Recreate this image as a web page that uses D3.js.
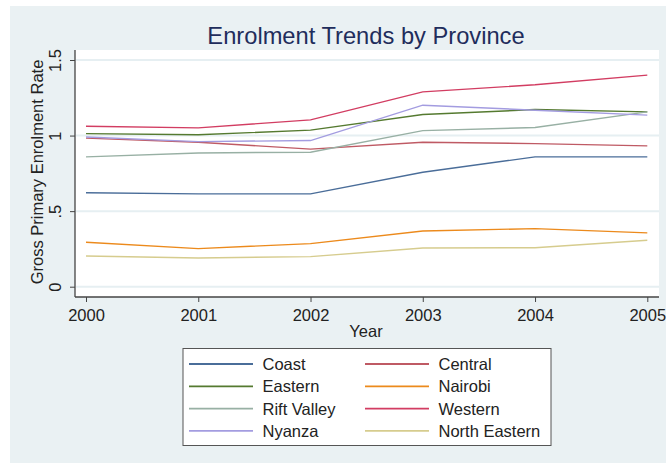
<!DOCTYPE html>
<html lang="en">
<head>
    <meta charset="UTF-8">
    <title>Enrolment Trends by Province</title>
    <style>
        body {
            margin: 0;
            padding: 0;
            background-color: #fff;
        }
        svg text {
            font-family: 'Liberation Sans', Arial, sans-serif;
        }
    </style>
    <script src="https://d3js.org/d3.v7.min.js"></script>
</head>
<body>
<div id="chart"></div>
<script>
    // data
    const years = [2000, 2001, 2002, 2003, 2004, 2005];
    const provinces = ["Coast", "Central", "Eastern", "Nairobi", "Rift Valley", "Western", "Nyanza", "North Eastern"];
    const coast = [0.622, 0.614, 0.614, 0.757, 0.859, 0.859];
    const central = [0.983, 0.956, 0.910, 0.956, 0.947, 0.932];
    const eastern = [1.013, 1.005, 1.036, 1.139, 1.172, 1.157];
    const nairobi = [0.294, 0.252, 0.285, 0.369, 0.384, 0.356];
    const riftValley = [0.859, 0.885, 0.890, 1.033, 1.053, 1.157];
    const western = [1.062, 1.051, 1.104, 1.289, 1.336, 1.400];
    const nyanza = [0.991, 0.960, 0.967, 1.201, 1.168, 1.135];
    const northEastern = [0.203, 0.190, 0.199, 0.256, 0.258, 0.307];
    const yTicks = [0, 0.5, 1, 1.5];
    const yTickLabels = ["0", ".5", "1", "1.5"];

    const seriesValues = [coast, central, eastern, nairobi, riftValley, western, nyanza, northEastern];
    const colors = ["#4a6d99", "#bf5a64", "#557a30", "#ec8a1c", "#98b0a4", "#d23d62", "#a39ce0", "#d6cc8e"];

    const width = 666, height = 463;
    const plot = {left: 75, top: 50, right: 659, bottom: 297};
    const labelSize = 16.5;

    const svg = d3.select("#chart").append("svg")
        .attr("width", width)
        .attr("height", height);

    // outer graph region
    svg.append("rect")
        .attr("x", 10).attr("y", 6)
        .attr("width", width - 10).attr("height", height - 6)
        .attr("fill", "#eaf1f3");

    svg.append("rect")
        .attr("x", plot.left).attr("y", plot.top)
        .attr("width", plot.right - plot.left).attr("height", plot.bottom - plot.top)
        .attr("fill", "#fff");

    const x = d3.scaleLinear().domain([2000, 2005]).range([86, 647.3]);
    const y = d3.scaleLinear().domain([0, 1.5]).range([286.7, 60]);

    // grid
    svg.append("g").selectAll("line")
        .data(yTicks)
        .enter().append("line")
        .attr("x1", plot.left + 1).attr("x2", plot.right)
        .attr("y1", d => y(d)).attr("y2", d => y(d))
        .attr("stroke", "#e6eff2")
        .attr("stroke-width", 2);

    // y axis
    const yAxis = svg.append("g")
        .attr("transform", "translate(" + plot.left + ",0)")
        .call(d3.axisLeft(y).tickValues(yTicks).tickSize(5).tickFormat((d, i) => yTickLabels[i]));
    yAxis.select(".domain").attr("d", "M0," + plot.top + "V" + plot.bottom).attr("stroke", "#444").attr("stroke-width", 1.3);
    yAxis.selectAll(".tick line").attr("stroke", "#444");
    yAxis.selectAll(".tick text")
        .attr("transform", "translate(-20,0) rotate(-90)")
        .attr("x", 0).attr("dy", "0.35em").attr("y", 0)
        .attr("text-anchor", "middle")
        .attr("font-size", labelSize).attr("fill", "#222")
        .attr("font-family", "'Liberation Sans', Arial, sans-serif");

    // x axis
    const xAxis = svg.append("g")
        .attr("transform", "translate(0," + plot.bottom + ")")
        .call(d3.axisBottom(x).tickValues(years).tickSize(5).tickFormat(d3.format("d")));
    xAxis.select(".domain").attr("d", "M" + plot.left + ",0H" + plot.right).attr("stroke", "#444").attr("stroke-width", 1.3);
    xAxis.selectAll(".tick line").attr("stroke", "#444");
    xAxis.selectAll(".tick text")
        .attr("y", 12)
        .attr("font-size", labelSize).attr("fill", "#222")
        .attr("font-family", "'Liberation Sans', Arial, sans-serif");

    // lines
    const line = d3.line()
        .x((d, i) => x(years[i]))
        .y(d => y(d));

    svg.append("g").selectAll("path")
        .data(seriesValues)
        .enter().append("path")
        .attr("d", line)
        .attr("fill", "none")
        .attr("stroke", (d, i) => colors[i])
        .attr("stroke-width", 1.4);

    // titles
    svg.append("text")
        .attr("x", 366).attr("y", 44)
        .attr("text-anchor", "middle")
        .attr("font-size", 23.7)
        .attr("fill", "#1f2d5c")
        .text("Enrolment Trends by Province");

    svg.append("text")
        .attr("transform", "translate(43,172) rotate(-90)")
        .attr("text-anchor", "middle")
        .attr("font-size", labelSize)
        .attr("fill", "#222")
        .text("Gross Primary Enrolment Rate");

    svg.append("text")
        .attr("x", 366).attr("y", 337)
        .attr("text-anchor", "middle")
        .attr("font-size", labelSize)
        .attr("fill", "#222")
        .text("Year");

    // legend
    const legend = svg.append("g");
    legend.append("rect")
        .attr("x", 183).attr("y", 348.5)
        .attr("width", 368).attr("height", 97)
        .attr("fill", "#fff")
        .attr("stroke", "#555").attr("stroke-width", 1);

    const items = legend.selectAll("g.item")
        .data(provinces)
        .enter().append("g")
        .attr("class", "item")
        .attr("transform", (d, i) => "translate(" + (i % 2 === 0 ? 189 : 365) + "," + (364 + Math.floor(i / 2) * 22.3) + ")");

    items.append("line")
        .attr("x1", 0).attr("x2", 64)
        .attr("y1", 0).attr("y2", 0)
        .attr("stroke", (d, i) => colors[i])
        .attr("stroke-width", 1.8);

    items.append("text")
        .attr("x", 73.5).attr("y", 0)
        .attr("dy", "0.36em")
        .attr("font-size", labelSize)
        .attr("fill", "#222")
        .text(d => d);
</script>
</body>
</html>
